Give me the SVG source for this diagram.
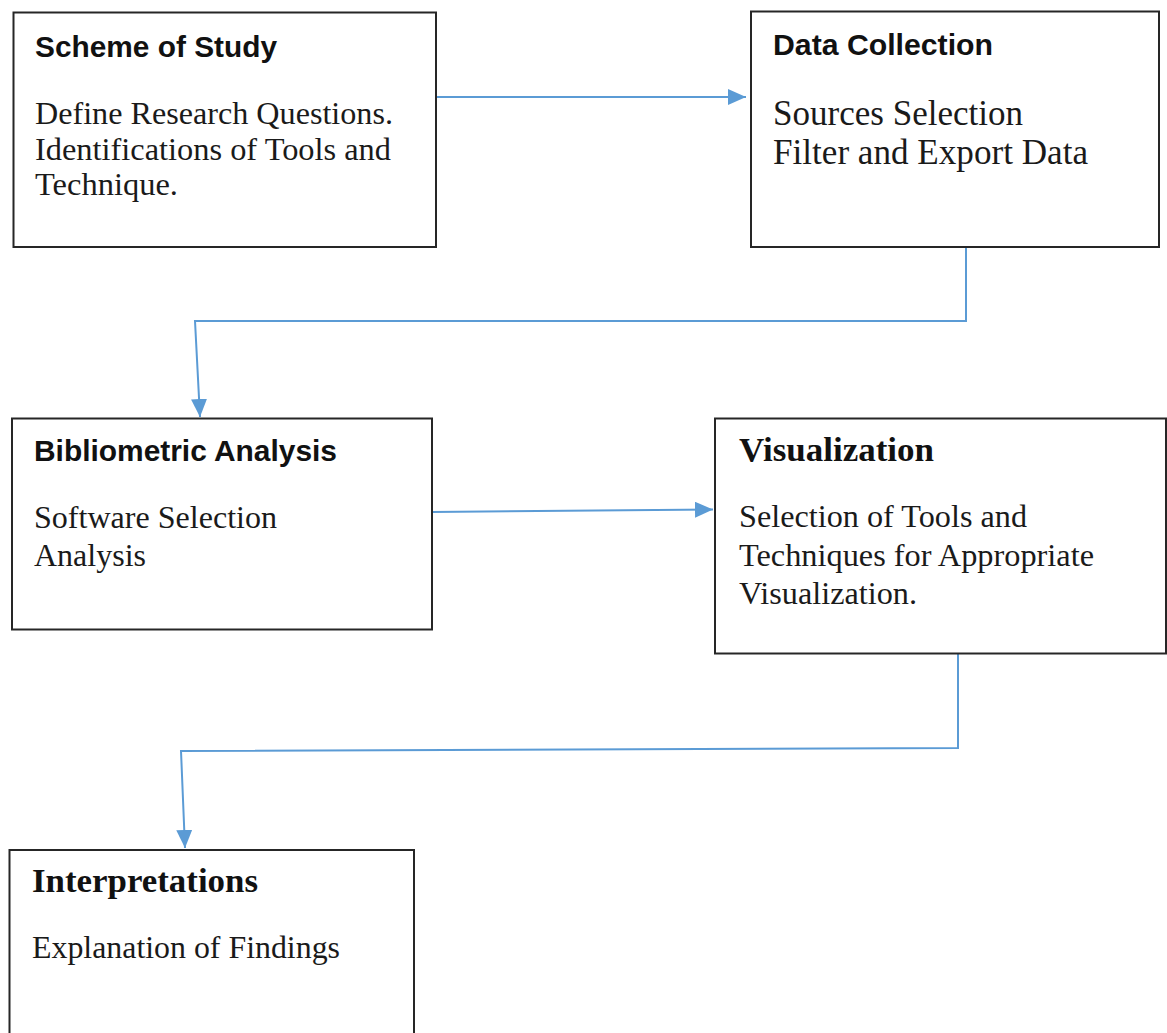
<svg xmlns="http://www.w3.org/2000/svg" width="1167" height="1033" viewBox="0 0 1167 1033">
  <style>
    .box { fill: #ffffff; stroke: #262626; stroke-width: 2; }
    .title { font-family: "Liberation Sans", Arial, sans-serif; font-weight: bold; font-size: 30px; fill: #111; }
    .stitle { font-family: "Liberation Serif", "Times New Roman", serif; font-weight: bold; font-size: 34.5px; fill: #111; }
    .body { font-family: "Liberation Serif", "Times New Roman", serif; font-size: 31px; fill: #1a1a1a; }
    .body2 { font-family: "Liberation Serif", "Times New Roman", serif; font-size: 35px; fill: #1a1a1a; }
    .conn { fill: none; stroke: #5B9BD5; stroke-width: 2; }
  </style>
  <defs>
    <marker id="arrow" markerUnits="userSpaceOnUse" markerWidth="19" markerHeight="17" refX="18" refY="8" orient="auto">
      <path d="M0,0 L18,8 L0,16 z" fill="#5B9BD5"/>
    </marker>
  </defs>
  <rect width="1167" height="1033" fill="#ffffff"/>

  <g id="connectors">
    <path class="conn" d="M436,97 L746,97" marker-end="url(#arrow)"/>
    <path class="conn" d="M966,247 L966,321 L195,321 L200,417" marker-end="url(#arrow)"/>
    <path class="conn" d="M432,512 L713,509.5" marker-end="url(#arrow)"/>
    <path class="conn" d="M958,653 L958,748 L181,751 L185,848" marker-end="url(#arrow)"/>
  </g>

  <g id="scheme-of-study">
    <rect class="box" x="13.5" y="12.5" width="422.5" height="234.5"/>
    <text class="title" x="35" y="57" textLength="242" lengthAdjust="spacingAndGlyphs">Scheme of Study</text>
    <text class="body" x="35" y="124" textLength="358" lengthAdjust="spacingAndGlyphs">Define Research Questions.</text>
    <text class="body" x="35" y="159.5" textLength="356" lengthAdjust="spacingAndGlyphs">Identifications of Tools and</text>
    <text class="body" x="35" y="195" textLength="143" lengthAdjust="spacingAndGlyphs">Technique.</text>
  </g>

  <g id="data-collection">
    <rect class="box" x="751" y="11.5" width="408" height="235.5"/>
    <text class="title" x="773" y="55" textLength="220" lengthAdjust="spacingAndGlyphs">Data Collection</text>
    <text class="body2" x="773" y="125" textLength="250" lengthAdjust="spacingAndGlyphs">Sources Selection</text>
    <text class="body2" x="773" y="164" textLength="315" lengthAdjust="spacingAndGlyphs">Filter and Export Data</text>
  </g>

  <g id="bibliometric-analysis">
    <rect class="box" x="12" y="418.5" width="420" height="211"/>
    <text class="title" x="34" y="461" textLength="303" lengthAdjust="spacingAndGlyphs">Bibliometric Analysis</text>
    <text class="body" x="34" y="528" textLength="243" lengthAdjust="spacingAndGlyphs">Software Selection</text>
    <text class="body" x="34" y="566" textLength="112" lengthAdjust="spacingAndGlyphs">Analysis</text>
  </g>

  <g id="visualization">
    <rect class="box" x="715" y="418.5" width="451" height="235"/>
    <text class="stitle" x="739" y="461" textLength="195" lengthAdjust="spacingAndGlyphs">Visualization</text>
    <text class="body" x="739" y="527" textLength="288" lengthAdjust="spacingAndGlyphs">Selection of Tools and</text>
    <text class="body" x="739" y="566" textLength="355" lengthAdjust="spacingAndGlyphs">Techniques for Appropriate</text>
    <text class="body" x="739" y="604" textLength="178" lengthAdjust="spacingAndGlyphs">Visualization.</text>
  </g>

  <g id="interpretations">
    <rect class="box" x="9.5" y="850" width="404.5" height="200"/>
    <text class="stitle" x="32" y="892" textLength="226" lengthAdjust="spacingAndGlyphs">Interpretations</text>
    <text class="body" x="32" y="958" textLength="308" lengthAdjust="spacingAndGlyphs">Explanation of Findings</text>
  </g>
</svg>
